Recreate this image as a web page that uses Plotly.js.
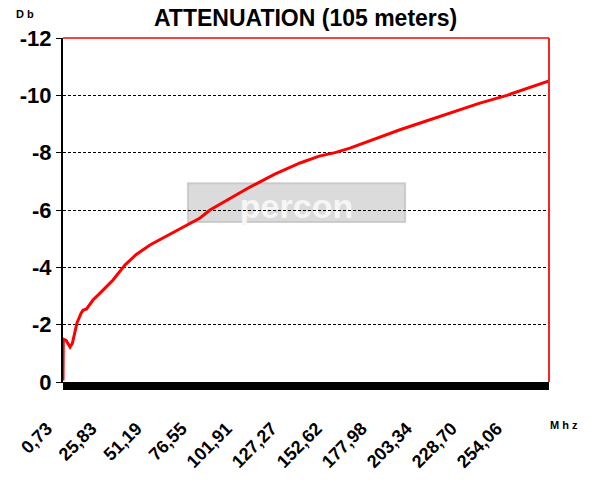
<!DOCTYPE html>
<html>
<head>
<meta charset="utf-8">
<script src="https://cdn.plot.ly/plotly-3.0.1.min.js"></script>
<style>html,body{margin:0;padding:0;background:#fff;}#chart{width:590px;height:501px;}</style>
</head>
<body>
<div id="chart"></div>
<script>
// Frequency (MHz) and attenuation (dB)
const freqMHz = [0.73, 0.9, 2.5, 4.0, 4.7, 6.0, 7.5, 8.6, 10.9, 12.0, 14.0, 17.6, 21.6, 28.9, 35.6, 42.0, 49.7, 57.0, 63.8, 71.0, 77.9, 83.5, 95.0, 106.0, 120.0, 134.2, 145.0, 153.9, 162.3, 176.0, 190.5, 204.0, 218.6, 235.0, 250.7, 262.0, 274.4];
const attenDb = [-0.05, -1.5, -1.45, -1.28, -1.22, -1.35, -1.75, -2.06, -2.4, -2.5, -2.55, -2.86, -3.1, -3.56, -4.08, -4.45, -4.78, -5.02, -5.23, -5.48, -5.72, -6.0, -6.42, -6.8, -7.25, -7.64, -7.88, -8.0, -8.16, -8.48, -8.8, -9.08, -9.38, -9.72, -10.0, -10.25, -10.5];
const xTickVals = [0.73, 25.83, 51.19, 76.55, 101.91, 127.27, 152.62, 177.98, 203.34, 228.70, 254.06];
const xTickText = ["0,73", "25,83", "51,19", "76,55", "101,91", "127,27", "152,62", "177,98", "203,34", "228,70", "254,06"];
const yTickVals = [0, -2, -4, -6, -8, -10, -12];
const yTickText = ["0", "-2", "-4", "-6", "-8", "-10", "-12"];

const trace = {
  x: freqMHz, y: attenDb, type: 'scatter', mode: 'lines',
  line: {color: '#ff0000', width: 3}, hoverinfo: 'skip'
};

const layout = {
  width: 590, height: 501,
  margin: {l: 63, r: 41, t: 38, b: 119},
  paper_bgcolor: '#ffffff', plot_bgcolor: '#ffffff',
  showlegend: false,
  font: {family: 'Liberation Sans, Arial, sans-serif', color: '#000'},
  title: {text: '<b>ATTENUATION (105 meters)</b>', x: 0.518, xanchor: 'center', y: 0.965, yanchor: 'middle',
          font: {size: 23, family: 'Liberation Sans, Arial, sans-serif', color: '#000'}},
  xaxis: {
    range: [0.73, 274.4], type: 'linear',
    tickmode: 'array', tickvals: xTickVals, ticktext: xTickText,
    tickangle: -45, ticks: '', ticklabelstandoff: 28, ticklabelshift: -16,
    tickfont: {size: 18, family: 'Liberation Sans, Arial', color: '#000', weight: 'bold'},
    showgrid: false, zeroline: false,
    showline: true, linecolor: '#000', linewidth: 1,
    minor: {ticks: 'outside', dtick: 0.5, tick0: 0.73, ticklen: 7, tickwidth: 1, tickcolor: '#000', showgrid: false}
  },
  yaxis: {
    range: [0, -12], tickmode: 'array', tickvals: yTickVals, ticktext: yTickText,
    ticks: 'outside', ticklen: 5, tickcolor: '#000', tickwidth: 1,
    tickfont: {size: 22, family: 'Liberation Sans, Arial', color: '#000', weight: 'bold'},
    showgrid: true, gridcolor: '#000', gridwidth: 1, griddash: '3px,2px',
    zeroline: false, showline: true, linecolor: '#000', linewidth: 2
  },
  shapes: [
    {type: 'rect', xref: 'paper', yref: 'paper', x0: 0.257, x1: 0.704, y0: 0.465, y1: 0.578, layer: 'below',
     fillcolor: 'rgba(190,190,190,0.55)', line: {color: 'rgba(190,190,190,0.7)', width: 2},
     label: {text: 'percon', textposition: 'middle center', font: {size: 34, family: 'Liberation Sans, Arial', color: '#f6f6f6', weight: 'bold'}}},
    {type: 'line', xref: 'paper', yref: 'paper', x0: 0, x1: 1, y0: 1, y1: 1, line: {color: '#ff4040', width: 2}},
    {type: 'line', xref: 'paper', yref: 'paper', x0: 1, x1: 1, y0: 0, y1: 1, line: {color: '#ff2020', width: 2}}
  ],
  annotations: [
    {text: '<b>D b</b>', xref: 'paper', yref: 'paper', x: -0.1, y: 1.07, xanchor: 'left', yanchor: 'middle', showarrow: false,
     font: {size: 11, family: 'Liberation Sans, Arial', color: '#000'}},
    {text: '<b>M h z</b>', xref: 'paper', yref: 'paper', x: 0.997, y: -0.125, xanchor: 'left', yanchor: 'middle', showarrow: false,
     font: {size: 11, family: 'Liberation Sans, Arial', color: '#000'}}
  ]
};

Plotly.newPlot('chart', [trace], layout, {displayModeBar: false, staticPlot: true});
</script>
</body>
</html>
